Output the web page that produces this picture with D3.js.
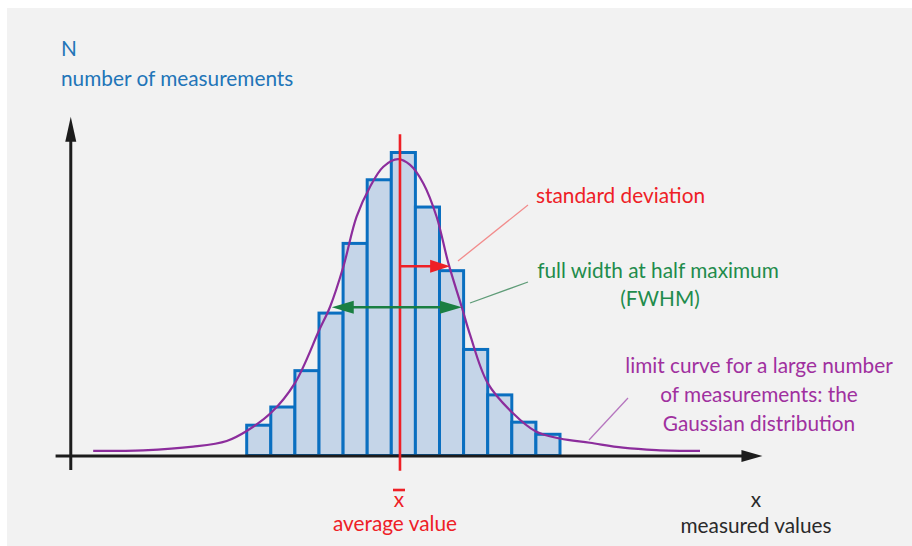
<!DOCTYPE html>
<html>
<head>
<meta charset="utf-8">
<script src="https://cdn.jsdelivr.net/npm/d3@7"></script>
<style>
  html, body { margin: 0; padding: 0; background: #ffffff; }
  svg { display: block; }
  text { font-family: Lato, "Open Sans", sans-serif; }
</style>
</head>
<body>
<svg id="chart" width="912" height="546"></svg>
<script>
// Histogram of measurements: bin left edges (in measured-value units) and counts
const binStarts = [0, 1, 2, 3, 4, 5, 6, 7, 8, 9, 10, 11, 12];
const binCounts = [10, 16, 28, 47, 70, 91, 100, 82, 61, 35, 20, 11, 7];
const binWidth = 1;

// Limit curve (Gaussian shape) sampled as [measured value, N]
const curveX = [-6.37, -4.29, -2.22, -0.83, 0, 1.0, 2.0, 3.01, 3.46, 4.01, 4.56, 5.12, 5.67, 6.28,
                6.78, 7.33, 7.88, 8.37, 8.92, 9.27, 10.0, 11.04, 12.0, 13.0, 14.24, 15.61, 17.0, 18.81];
const curveN = [1.5, 1.7, 2.9, 4.8, 8.1, 14.0, 23.9, 41.4, 49.1, 62.3, 78.8, 88.7, 95.3, 97.8,
                95.9, 89.8, 78.8, 63.4, 49.1, 39.8, 23.9, 14.0, 7.9, 5.6, 4.2, 2.6, 1.8, 1.5];

// Summary statistics
const meanValue = 6.36;
const sigma = 2.08;
const sigmaLevel = 62.5;         // height at which the sigma arrow is drawn
const fwhmRange = [3.53, 8.93];
const halfMax = 48.9;

// Axis extents in data units
const xAxisExtent = [-7.93, 21.4];
const yAxisPos = -7.3;
const yAxisExtent = [-4.8, 111.8];
const meanLineExtent = [-5, 106];

// Labels
const yTitle = ["N", "number of measurements"];
const xTitle = ["x", "measured values"];
const meanLabel = "average value";
const sigmaLabel = "standard deviation";
const fwhmLabel = ["full width at half maximum", "(FWHM)"];
const curveLabel = ["limit curve for a large number", "of measurements: the", "Gaussian distribution"];

const svg = d3.select("#chart");

const x = d3.scaleLinear().domain([0, 13]).range([246.7, 560]);
const y = d3.scaleLinear().domain([0, 100]).range([455.5, 152.5]);

const C = {
  bg: "#f2f2f2",
  axis: "#1c1c1c",
  barFill: "#c5d5e8",
  barStroke: "#0a6fc0",
  curve: "#8c2d9c",
  red: "#ee2026",
  green: "#1a7f42",
  blueText: "#2275b8",
  purpleText: "#a0309f",
  greenText: "#1f8c4c",
  black: "#2a2a2a"
};

// panel background
svg.append("rect").attr("x", 7).attr("y", 8).attr("width", 905).attr("height", 538).attr("fill", C.bg);

// bars
svg.append("g").selectAll("rect").data(binStarts).join("rect")
  .attr("x", d => x(d))
  .attr("y", (d, i) => y(binCounts[i]))
  .attr("width", d => x(d + binWidth) - x(d))
  .attr("height", (d, i) => y(0) - y(binCounts[i]))
  .attr("fill", C.barFill)
  .attr("stroke", C.barStroke)
  .attr("stroke-width", 3);

// limit curve
const line = d3.line().x(d => x(d[0])).y(d => y(d[1])).curve(d3.curveCatmullRom.alpha(0.5));
svg.append("path")
  .datum(curveX.map((v, i) => [v, curveN[i]]))
  .attr("d", line)
  .attr("fill", "none")
  .attr("stroke", C.curve)
  .attr("stroke-width", 2.2);

// axes with arrowheads
function arrowHead(tipX, tipY, dir, len, half, color) {
  // dir: unit vector pointing toward the tip
  const bx = tipX - dir[0] * len, by = tipY - dir[1] * len;
  const px = -dir[1], py = dir[0];
  svg.append("path")
    .attr("d", `M${tipX},${tipY}L${bx + px * half},${by + py * half}L${bx - px * half},${by - py * half}Z`)
    .attr("fill", color);
}

const axisY = y(0) + 0.5;
svg.append("line")
  .attr("x1", x(xAxisExtent[0])).attr("x2", x(xAxisExtent[1]) - 18)
  .attr("y1", axisY).attr("y2", axisY)
  .attr("stroke", C.axis).attr("stroke-width", 3);
arrowHead(x(xAxisExtent[1]), axisY, [1, 0], 21, 6, C.axis);

svg.append("line")
  .attr("x1", x(yAxisPos)).attr("x2", x(yAxisPos))
  .attr("y1", y(yAxisExtent[0])).attr("y2", y(yAxisExtent[1]) + 20)
  .attr("stroke", C.axis).attr("stroke-width", 3);
arrowHead(x(yAxisPos), y(yAxisExtent[1]), [0, -1], 25, 5.5, C.axis);

// mean line
svg.append("line")
  .attr("x1", x(meanValue)).attr("x2", x(meanValue))
  .attr("y1", y(meanLineExtent[1])).attr("y2", y(meanLineExtent[0]))
  .attr("stroke", C.red).attr("stroke-width", 2.6);

// standard deviation arrow
svg.append("line")
  .attr("x1", x(meanValue)).attr("x2", x(meanValue + sigma) - 16)
  .attr("y1", y(sigmaLevel)).attr("y2", y(sigmaLevel))
  .attr("stroke", C.red).attr("stroke-width", 2.5);
arrowHead(x(meanValue + sigma), y(sigmaLevel), [1, 0], 20, 6.5, C.red);

// FWHM double arrow
svg.append("line")
  .attr("x1", x(fwhmRange[0]) + 16).attr("x2", x(fwhmRange[1]) - 16)
  .attr("y1", y(halfMax)).attr("y2", y(halfMax))
  .attr("stroke", C.green).attr("stroke-width", 2.5);
arrowHead(x(fwhmRange[0]), y(halfMax), [-1, 0], 22, 6.5, C.green);
arrowHead(x(fwhmRange[1]), y(halfMax), [1, 0], 22, 6.5, C.green);

// leader lines
svg.append("line").attr("x1", 458).attr("y1", 261).attr("x2", 528).attr("y2", 205)
  .attr("stroke", "#f28c8c").attr("stroke-width", 1.3);
svg.append("line").attr("x1", 470).attr("y1", 303).attr("x2", 528).attr("y2", 282)
  .attr("stroke", "#5f9c78").attr("stroke-width", 1.3);
svg.append("line").attr("x1", 589).attr("y1", 440).attr("x2", 628).attr("y2", 398)
  .attr("stroke", "#b676bf").attr("stroke-width", 1.3);

// text
const fs = 20.8;
function label(txt, tx, ty, color, anchor) {
  return svg.append("text").attr("x", tx).attr("y", ty)
    .attr("fill", color).attr("font-size", fs)
    .attr("text-anchor", anchor || "start").text(txt);
}

label(yTitle[0], 61, 56, C.blueText);
label(yTitle[1], 61, 86, C.blueText);

label(sigmaLabel, 536, 203, C.red);
label(fwhmLabel[0], 658, 278, C.greenText, "middle");
label(fwhmLabel[1], 660, 306, C.greenText, "middle");

curveLabel.forEach((t, i) => label(t, 759, 373 + i * 29, C.purpleText, "middle"));

label(xTitle[0], 756, 507, C.black, "middle");
label(xTitle[1], 756, 533, C.black, "middle");

// x-bar symbol and label for the mean
const mx = x(meanValue) - 1;
label("x", mx, 507, C.red, "middle");
svg.append("line").attr("x1", mx - 6).attr("x2", mx + 6).attr("y1", 490).attr("y2", 490)
  .attr("stroke", C.red).attr("stroke-width", 2.6);
label(meanLabel, mx - 4, 531, C.red, "middle");
</script>
</body>
</html>
